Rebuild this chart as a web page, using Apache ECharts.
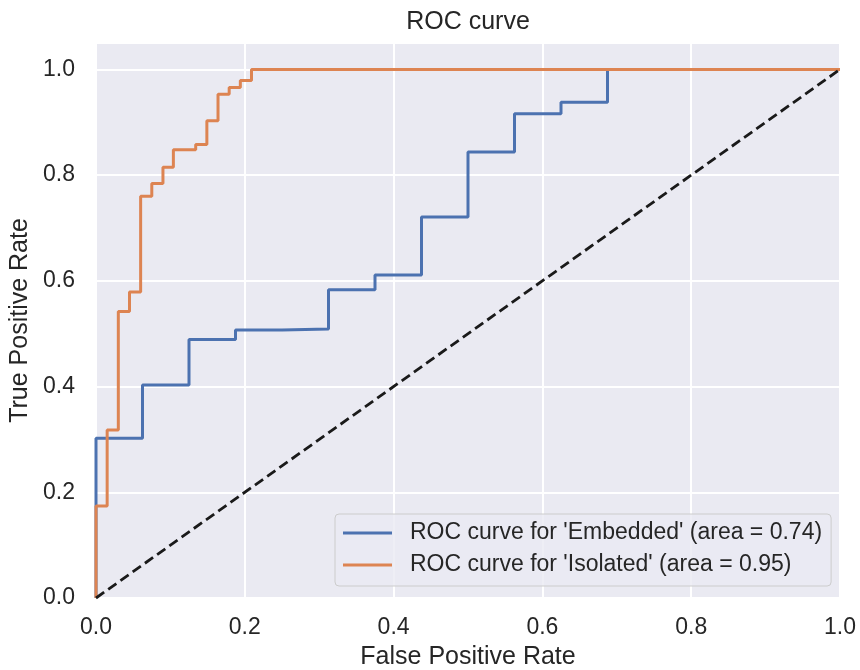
<!DOCTYPE html>
<html>
<head>
<meta charset="utf-8">
<script src="https://cdn.jsdelivr.net/npm/echarts@6/dist/echarts.min.js"></script>
<style>
  html, body { margin: 0; padding: 0; background: #fff; }
  #chart { width: 860px; height: 670px; }
</style>
</head>
<body>
<div id="chart"></div>
<script>
// ROC points (fpr, tpr)
const embeddedFpr = [0, 0, 0.0625, 0.0625, 0.125, 0.125, 0.1875, 0.1875, 0.25, 0.25, 0.3125, 0.3125,
  0.375, 0.375, 0.4375, 0.4375, 0.5, 0.5, 0.5625, 0.5625, 0.625, 0.625, 0.6875, 0.6875, 1];
const embeddedTpr = [0, 0.302, 0.302, 0.403, 0.403, 0.489, 0.489, 0.507, 0.507, 0.509, 0.509, 0.583,
  0.583, 0.611, 0.611, 0.721, 0.721, 0.844, 0.844, 0.916, 0.916, 0.938, 0.938, 1, 1];

const isolatedFpr = [0, 0, 0.015, 0.015, 0.030, 0.030, 0.045, 0.045, 0.060, 0.060, 0.075, 0.075,
  0.090, 0.090, 0.104, 0.104, 0.134, 0.134, 0.149, 0.149, 0.164, 0.164, 0.179, 0.179, 0.194, 0.194,
  0.209, 0.209, 1];
const isolatedTpr = [0, 0.174, 0.174, 0.318, 0.318, 0.542, 0.542, 0.579, 0.579, 0.760, 0.760, 0.784,
  0.784, 0.815, 0.815, 0.848, 0.848, 0.858, 0.858, 0.903, 0.903, 0.953, 0.953, 0.966, 0.966, 0.979,
  0.979, 1, 1];

const chanceX = [0, 1];
const chanceY = [0, 1];

const seriesNames = ["ROC curve for 'Embedded' (area = 0.74)", "ROC curve for 'Isolated' (area = 0.95)"];

const font = "'Liberation Sans', Arial, sans-serif";

function pairs(xs, ys) {
  return xs.map((x, i) => [x, ys[i]]);
}

let chart = echarts.init(document.getElementById('chart'));
chart.setOption({
  animation: false,
  title: {
    text: 'ROC curve',
    left: 468,
    textAlign: 'center',
    top: 10,
    padding: 0,
    textStyle: { fontFamily: font, fontSize: 25, fontWeight: 'normal', color: '#262626' }
  },
  grid: {
    left: 96, right: 20, top: 43, bottom: 72,
    outerBoundsMode: 'none',
    show: true, backgroundColor: '#eaeaf2', borderWidth: 0
  },
  legend: {
    data: seriesNames,
    orient: 'vertical',
    left: 335,
    top: 514,
    padding: [6, 9, 8, 8],
    itemWidth: 49,
    itemHeight: 3,
    itemGap: 6,
    icon: 'rect',
    backgroundColor: 'rgba(234,234,242,0.8)',
    borderColor: '#cccccc',
    borderWidth: 1,
    borderRadius: 4,
    textStyle: { fontFamily: font, fontSize: 23, color: '#262626', lineHeight: 26, padding: [0, 0, 0, 13] }
  },
  xAxis: {
    type: 'value',
    min: 0, max: 1, interval: 0.2,
    name: 'False Positive Rate',
    nameLocation: 'middle',
    nameGap: 47,
    nameTextStyle: { fontFamily: font, fontSize: 25, color: '#262626' },
    axisLine: { show: false },
    axisTick: { show: false },
    axisLabel: {
      fontFamily: font, fontSize: 23, color: '#262626', margin: 18,
      formatter: v => v.toFixed(1)
    },
    splitLine: { lineStyle: { color: '#ffffff', width: 2 } }
  },
  yAxis: {
    type: 'value',
    min: 0, max: 1.05, interval: 0.2,
    name: 'True Positive Rate',
    nameLocation: 'middle',
    nameGap: 57,
    nameTextStyle: { fontFamily: font, fontSize: 25, color: '#262626' },
    axisLine: { show: false },
    axisTick: { show: false },
    axisLabel: {
      fontFamily: font, fontSize: 23, color: '#262626', margin: 21,
      showMaxLabel: false,
      formatter: v => v.toFixed(1)
    },
    splitLine: { lineStyle: { color: '#ffffff', width: 2 } }
  },
  series: [
    {
      name: seriesNames[0],
      type: 'line',
      data: pairs(embeddedFpr, embeddedTpr),
      symbol: 'none',
      itemStyle: { color: '#4c72b0' },
      lineStyle: { color: '#4c72b0', width: 3 }
    },
    {
      name: seriesNames[1],
      type: 'line',
      data: pairs(isolatedFpr, isolatedTpr),
      symbol: 'none',
      itemStyle: { color: '#dd8452' },
      lineStyle: { color: '#dd8452', width: 3 }
    },
    {
      name: 'chance',
      type: 'line',
      data: pairs(chanceX, chanceY),
      symbol: 'none',
      lineStyle: { color: '#1a1a1a', width: 2.8, type: [10, 5] }
    }
  ]
});
</script>
</body>
</html>
